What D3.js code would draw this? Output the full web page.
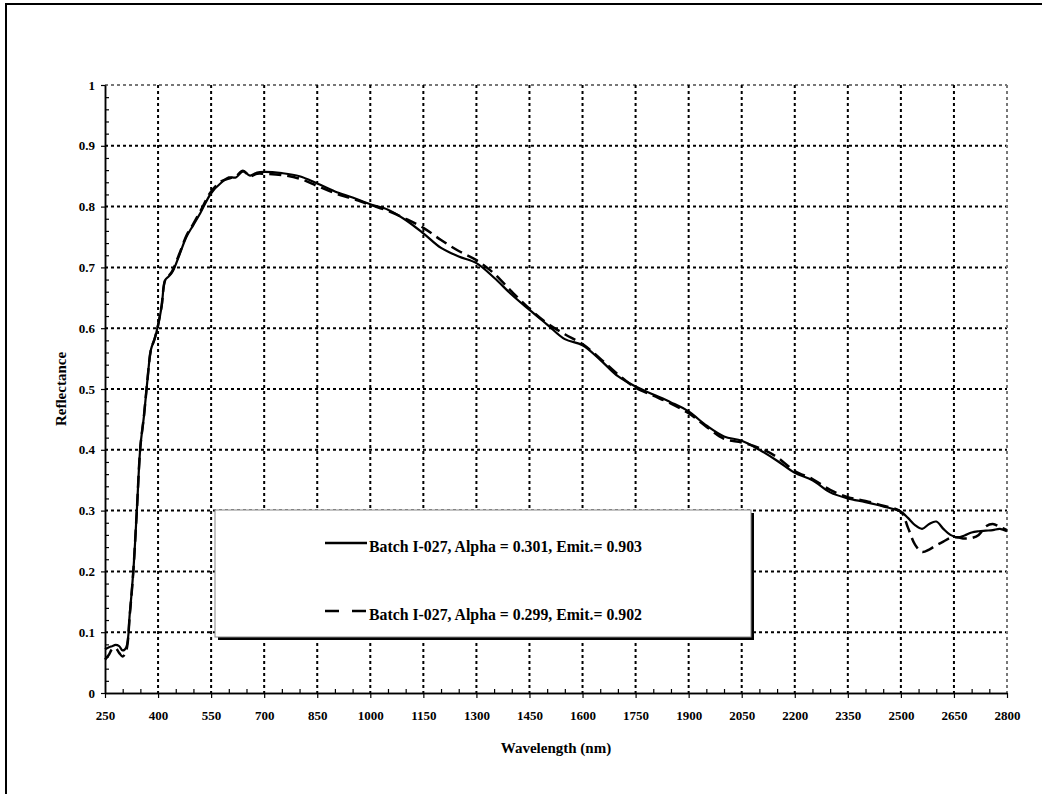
<!DOCTYPE html>
<html>
<head>
<meta charset="utf-8">
<script src="https://cdn.jsdelivr.net/npm/d3@7/dist/d3.min.js"></script>
<style>
  html, body { margin: 0; padding: 0; background: #fff; }
  svg { display: block; }
  text { font-family: "Liberation Serif", "Times New Roman", serif; font-weight: bold; fill: #000; }
</style>
</head>
<body>
<script>
// Spectral reflectance of batch I-027, two measurements
const wavelengths = [250, 260, 270, 280, 290, 300, 310, 320, 330, 340, 350, 360, 370, 380, 390, 400, 410, 420, 430, 440,
  460, 480, 500, 520, 550, 580, 600, 620, 640, 660, 680, 700, 750, 800, 850, 900, 950, 1000, 1050, 1100,
  1150, 1200, 1250, 1300, 1350, 1400, 1450, 1500, 1550, 1600, 1650, 1700, 1750, 1800, 1850, 1900, 1950, 2000,
  2050, 2100, 2150, 2200, 2250, 2300, 2350, 2400, 2450, 2500, 2520, 2540, 2560, 2580, 2600, 2620, 2640, 2660,
  2680, 2700, 2720, 2740, 2760, 2780, 2800];

const reflectanceA = [0.072, 0.075, 0.077, 0.079, 0.077, 0.070, 0.075, 0.130, 0.200, 0.300, 0.405, 0.455, 0.515, 0.565, 0.582, 0.605, 0.635, 0.679, 0.685, 0.692,
  0.720, 0.750, 0.770, 0.790, 0.822, 0.840, 0.848, 0.848, 0.858, 0.851, 0.856, 0.857, 0.855, 0.850, 0.838, 0.825, 0.815, 0.804, 0.795, 0.778,
  0.756, 0.732, 0.718, 0.707, 0.683, 0.655, 0.630, 0.606, 0.582, 0.572, 0.548, 0.521, 0.504, 0.491, 0.478, 0.463, 0.440, 0.422,
  0.415, 0.400, 0.382, 0.362, 0.350, 0.330, 0.320, 0.314, 0.307, 0.298, 0.288, 0.276, 0.270, 0.278, 0.282, 0.270, 0.260, 0.256,
  0.259, 0.264, 0.266, 0.267, 0.268, 0.270, 0.266];

const reflectanceB = [0.055, 0.062, 0.072, 0.074, 0.066, 0.060, 0.070, 0.128, 0.200, 0.300, 0.405, 0.455, 0.515, 0.565, 0.582, 0.605, 0.637, 0.679, 0.686, 0.694,
  0.722, 0.752, 0.772, 0.793, 0.825, 0.842, 0.846, 0.850, 0.859, 0.850, 0.854, 0.854, 0.852, 0.846, 0.834, 0.822, 0.813, 0.803, 0.793, 0.780,
  0.765, 0.745, 0.727, 0.712, 0.690, 0.660, 0.632, 0.608, 0.590, 0.574, 0.550, 0.524, 0.502, 0.489, 0.476, 0.460, 0.438, 0.418,
  0.412, 0.403, 0.388, 0.365, 0.352, 0.334, 0.322, 0.316, 0.308, 0.298, 0.272, 0.244, 0.232, 0.236, 0.243, 0.249, 0.255, 0.256,
  0.254, 0.255, 0.260, 0.274, 0.278, 0.273, 0.268];

const xMajorTicks = [250, 400, 550, 700, 850, 1000, 1150, 1300, 1450, 1600, 1750, 1900, 2050, 2200, 2350, 2500, 2650, 2800];
const yMajorTicks = [0, 0.1, 0.2, 0.3, 0.4, 0.5, 0.6, 0.7, 0.8, 0.9, 1];
const yTickLabels = ["0", "0.1", "0.2", "0.3", "0.4", "0.5", "0.6", "0.7", "0.8", "0.9", "1"];

const seriesNames = [
  "Batch I-027, Alpha = 0.301, Emit.= 0.903",
  "Batch I-027, Alpha = 0.299, Emit.= 0.902"
];

const W = 1042, H = 794;
const plot = { left: 105, right: 1007, top: 85, bottom: 693 };

const svg = d3.select("body").append("svg").attr("width", W).attr("height", H);

// outer frame
svg.append("rect")
  .attr("x", 6).attr("y", 4).attr("width", W + 10).attr("height", H + 10)
  .attr("fill", "#fff").attr("stroke", "#000").attr("stroke-width", 2);

const x = d3.scaleLinear().domain([250, 2800]).range([plot.left, plot.right]);
const y = d3.scaleLinear().domain([0, 1]).range([plot.bottom, plot.top]);

// dotted grid
const grid = svg.append("g").attr("stroke", "#000").attr("stroke-width", 2).attr("stroke-dasharray", "3,3");
grid.selectAll("line.h").data(yMajorTicks.filter(d => d > 0)).join("line")
  .attr("x1", plot.left).attr("x2", plot.right)
  .attr("y1", d => y(d)).attr("y2", d => y(d))
  .attr("stroke", d => d === 1 ? "#777" : "#000");
grid.selectAll("line.v").data(xMajorTicks.filter(d => d > 250)).join("line")
  .attr("y1", plot.top).attr("y2", plot.bottom)
  .attr("x1", d => x(d)).attr("x2", d => x(d))
  .attr("stroke", d => d === 2800 ? "#777" : "#000");

// axes
const xMinor = d3.range(250, 2801, 50).filter(d => !xMajorTicks.includes(d));
const yMinor = d3.range(0, 51).map(i => i * 0.02).filter(v => Math.abs(v * 10 - Math.round(v * 10)) > 1e-6);

function styleAxis(g) {
  g.select(".domain").attr("stroke", "#000").attr("stroke-width", 1.5);
  g.selectAll(".tick line").attr("stroke", "#000").attr("stroke-width", 1.2);
}

svg.append("g").attr("transform", `translate(0,${plot.bottom})`)
  .call(d3.axisBottom(x).tickValues(xMinor).tickSize(-4).tickFormat("").tickSizeOuter(0))
  .call(styleAxis);
const gx = svg.append("g").attr("transform", `translate(0,${plot.bottom})`)
  .call(d3.axisBottom(x).tickValues(xMajorTicks).tickSize(5).tickPadding(13).tickSizeOuter(0).tickFormat(d3.format("d")))
  .call(styleAxis);
gx.selectAll("text").attr("font-size", 13).attr("font-family", "Liberation Serif").attr("font-weight", "bold");

svg.append("g").attr("transform", `translate(${plot.left},0)`)
  .call(d3.axisLeft(y).tickValues(yMinor).tickSize(-4).tickFormat("").tickSizeOuter(0))
  .call(styleAxis);
const gy = svg.append("g").attr("transform", `translate(${plot.left},0)`)
  .call(d3.axisLeft(y).tickValues(yMajorTicks).tickSize(4).tickPadding(6).tickSizeOuter(0)
    .tickFormat((d, i) => yTickLabels[i]))
  .call(styleAxis);
gy.selectAll("text").attr("font-size", 13).attr("font-family", "Liberation Serif").attr("font-weight", "bold");

// axis titles
svg.append("text").attr("x", (plot.left + plot.right) / 2).attr("y", 753)
  .attr("text-anchor", "middle").attr("font-size", 15).text("Wavelength (nm)");
svg.append("text").attr("transform", `translate(66,${(plot.top + plot.bottom) / 2}) rotate(-90)`)
  .attr("text-anchor", "middle").attr("font-size", 15).text("Reflectance");

// spectra
const line = d3.line().curve(d3.curveCatmullRom.alpha(0.5))
  .x((d, i) => x(wavelengths[i])).y(d => y(d));

svg.append("path").datum(reflectanceB)
  .attr("d", line).attr("fill", "none").attr("stroke", "#000")
  .attr("stroke-width", 2.5).attr("stroke-dasharray", "12,6");
svg.append("path").datum(reflectanceA)
  .attr("d", line).attr("fill", "none").attr("stroke", "#000")
  .attr("stroke-width", 2.2);

// legend
const lg = { x: 215, y: 510, w: 536, h: 127 };
const legend = svg.append("g");
legend.append("rect").attr("x", lg.x + 3).attr("y", lg.y + 3).attr("width", lg.w).attr("height", lg.h).attr("fill", "#000");
legend.append("rect").attr("x", lg.x).attr("y", lg.y).attr("width", lg.w).attr("height", lg.h)
  .attr("fill", "#fff").attr("stroke", "#888").attr("stroke-width", 1);

const legendRows = [
  { name: seriesNames[0], dash: null, yy: 543 },
  { name: seriesNames[1], dash: "14,13", yy: 611 }
];
legendRows.forEach(r => {
  legend.append("line").attr("x1", 325).attr("x2", 367).attr("y1", r.yy).attr("y2", r.yy)
    .attr("stroke", "#000").attr("stroke-width", 2.5).attr("stroke-dasharray", r.dash);
  legend.append("text").attr("x", 369).attr("y", r.yy + 9).attr("font-size", 15.8).text(r.name);
});
</script>
</body>
</html>
